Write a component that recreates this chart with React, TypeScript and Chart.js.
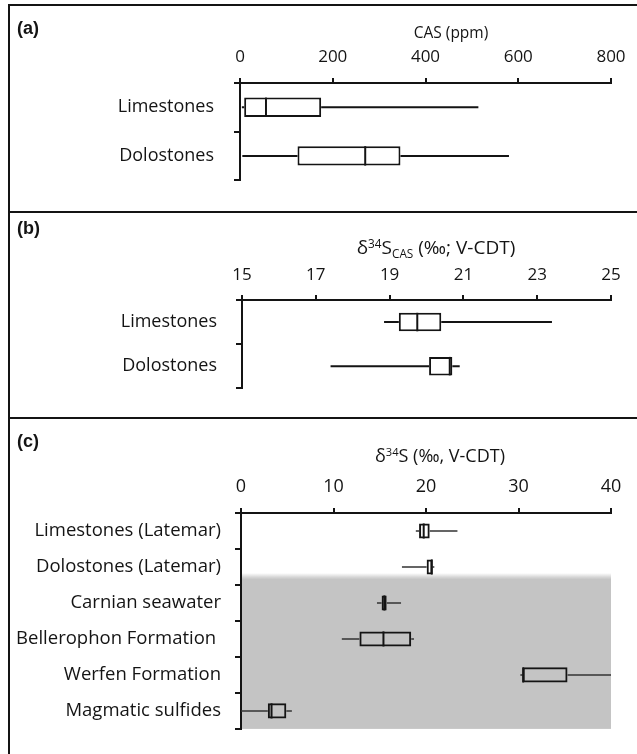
import React, { useEffect, useRef } from "react";
import { Chart, registerables } from "chart.js";
Chart.register(...registerables);

// ---------- Panel (a): CAS concentration (ppm) ----------
const casCategories = ["Limestones", "Dolostones"];
const casMin = [4, 5];
const casQ1 = [9, 124];
const casMedian = [56, 270];
const casQ3 = [175, 346];
const casMax = [514, 580];
const casAxis = { min: 0, max: 800, step: 200 };

// ---------- Panel (b): δ34S CAS (‰ V-CDT) ----------
const casSCategories = ["Limestones", "Dolostones"];
const casSMin = [18.85, 17.4];
const casSQ1 = [19.25, 20.07];
const casSMedian = [19.75, 20.63];
const casSQ3 = [20.4, 20.7];
const casSMax = [23.4, 20.9];
const casSAxis = { min: 15, max: 25, step: 2 };

// ---------- Panel (c): δ34S comparison (‰ V-CDT) ----------
const sCategories = [
  "Limestones (Latemar)",
  "Dolostones (Latemar)",
  "Carnian seawater",
  "Bellerophon Formation ",
  "Werfen Formation",
  "Magmatic sulfides",
];
const sMin = [18.9, 17.4, 14.7, 10.9, 30.2, 0];
const sQ1 = [19.25, 20.07, 15.2, 12.8, 30.45, 2.9];
const sMedian = [19.75, 20.63, 15.5, 15.4, 30.5, 3.3];
const sQ3 = [20.4, 20.7, 15.75, 18.4, 35.3, 4.9];
const sMax = [23.4, 20.9, 17.3, 18.7, 40, 5.5];
const sAxis = { min: 0, max: 40, step: 10 };
const sShadeFrom = 1.25; // category position where the grey field begins

const INK = "#141414";
const GREY = "#c4c4c4";

type PanelProps = {
  top: number;
  height: number;
  categories: string[];
  mins: number[];
  q1s: number[];
  medians: number[];
  q3s: number[];
  maxs: number[];
  axis: { min: number; max: number; step: number };
  areaLeft: number;
  areaRight: number;
  areaTop: number;
  areaBottom: number;
  labelPad: number;
  labelSize: number;
  tickSize: number;
  tickPad: number;
  whiskerWidth: number;
  whiskerColor: string;
  boxFill: string;
  barPct: number;
  shadeFrom?: number;
};

function BoxPanel(p: PanelProps) {
  const ref = useRef<HTMLCanvasElement>(null);
  useEffect(() => {
    const canvas = ref.current;
    if (!canvas) return;
    const plugin = {
      id: "boxWhiskers",
      beforeDraw(chart: any) {
        if (p.shadeFrom === undefined) return;
        const { ctx, chartArea } = chart;
        const y0 = chart.scales.y.getPixelForValue(p.shadeFrom);
        const w = chartArea.right - chartArea.left;
        ctx.save();
        const g = ctx.createLinearGradient(0, y0 - 3, 0, y0 + 3);
        g.addColorStop(0, "rgba(196,196,196,0)");
        g.addColorStop(1, GREY);
        ctx.fillStyle = g;
        ctx.fillRect(chartArea.left, y0 - 3, w, 6);
        ctx.fillStyle = GREY;
        ctx.fillRect(chartArea.left, y0 + 3, w, chartArea.bottom - y0 - 3);
        ctx.restore();
      },
      afterDatasetsDraw(chart: any) {
        const { ctx } = chart;
        const xs = chart.scales.x;
        const meta = chart.getDatasetMeta(0);
        ctx.save();
        p.categories.forEach((_, i) => {
          const bar = meta.data[i];
          const y = bar.y;
          const half = bar.height / 2;
          ctx.strokeStyle = p.whiskerColor;
          ctx.lineWidth = p.whiskerWidth;
          ctx.beginPath();
          ctx.moveTo(xs.getPixelForValue(p.mins[i]), y);
          ctx.lineTo(xs.getPixelForValue(p.q1s[i]), y);
          ctx.moveTo(xs.getPixelForValue(p.q3s[i]), y);
          ctx.lineTo(xs.getPixelForValue(p.maxs[i]), y);
          ctx.stroke();
          ctx.strokeStyle = INK;
          ctx.lineWidth = 2;
          const mx = xs.getPixelForValue(p.medians[i]);
          ctx.beginPath();
          ctx.moveTo(mx, y - half);
          ctx.lineTo(mx, y + half);
          ctx.stroke();
        });
        ctx.restore();
      },
    };
    const chart = new Chart(canvas, {
      type: "bar",
      data: {
        labels: p.categories,
        datasets: [
          {
            data: p.q1s.map((q, i) => [q, p.q3s[i]]) as any,
            backgroundColor: p.boxFill,
            borderColor: INK,
            borderWidth: 2,
            borderSkipped: false,
            barPercentage: p.barPct,
            categoryPercentage: 1,
          },
        ],
      },
      options: {
        animation: false,
        responsive: false,
        devicePixelRatio: 1,
        indexAxis: "y",
        layout: {
          padding: {
            left: 0,
            top: 0,
            right: 637 - p.areaRight,
            bottom: p.height - p.areaBottom,
          },
        },
        plugins: {
          legend: { display: false },
          tooltip: { enabled: false },
          title: { display: false },
        },
        scales: {
          x: {
            type: "linear",
            position: "top",
            min: p.axis.min,
            max: p.axis.max,
            ticks: {
              stepSize: p.axis.step,
              padding: p.tickPad,
              color: INK,
              font: { family: '"Open Sans"', size: p.tickSize },
            },
            grid: {
              drawOnChartArea: false,
              drawTicks: true,
              tickLength: 5,
              lineWidth: 2,
              color: INK,
            },
            border: { display: true, width: 2, color: INK },
            afterFit: (s: any) => {
              s.height = p.areaTop;
            },
          },
          y: {
            type: "category",
            position: "left",
            offset: true,
            grid: {
              offset: true,
              drawOnChartArea: false,
              drawTicks: true,
              tickLength: 6,
              lineWidth: 2,
              color: INK,
            },
            border: { display: true, width: 2, color: INK },
            ticks: {
              padding: p.labelPad,
              color: INK,
              font: { family: '"Open Sans"', size: p.labelSize },
            },
            afterFit: (s: any) => {
              s.width = p.areaLeft;
            },
          },
        },
      },
      plugins: [plugin],
    } as any);
    return () => chart.destroy();
  }, []);
  return (
    <canvas
      ref={ref}
      width={637}
      height={p.height}
      style={{ position: "absolute", left: 0, top: p.top, width: 637, height: p.height, display: "block" }}
    />
  );
}

const sup: React.CSSProperties = { fontSize: "0.62em", position: "relative", top: "-0.55em" };
const sub: React.CSSProperties = { fontSize: "0.62em", position: "relative", top: "0.3em" };

function Title(props: { cx: number; cy: number; size: number; children: React.ReactNode }) {
  return (
    <div
      style={{
        position: "absolute",
        left: props.cx - 150,
        top: props.cy - 14,
        width: 300,
        height: 28,
        lineHeight: "28px",
        textAlign: "center",
        fontSize: props.size,
        fontFamily: '"Open Sans"',
        color: INK,
        whiteSpace: "nowrap",
      }}
    >
      {props.children}
    </div>
  );
}

function PanelLabel(props: { y: number; text: string }) {
  return (
    <div
      style={{
        position: "absolute",
        left: 17,
        top: props.y - 12,
        height: 24,
        lineHeight: "24px",
        fontSize: 18,
        fontWeight: "bold",
        fontFamily: '"Liberation Sans", Arial, sans-serif',
        color: INK,
      }}
    >
      {props.text}
    </div>
  );
}

export default function App() {
  const line = (style: React.CSSProperties) => (
    <div style={{ position: "absolute", background: INK, ...style }} />
  );
  return (
    <div
      style={{
        position: "absolute",
        left: 0,
        top: 0,
        width: 637,
        height: 754,
        overflow: "hidden",
        background: "#fff",
      }}
    >
      <BoxPanel
        top={0}
        height={211}
        categories={casCategories}
        mins={casMin}
        q1s={casQ1}
        medians={casMedian}
        q3s={casQ3}
        maxs={casMax}
        axis={casAxis}
        areaLeft={240}
        areaRight={611}
        areaTop={83}
        areaBottom={183}
        labelPad={20}
        labelSize={18}
        tickSize={17}
        tickPad={11}
        whiskerWidth={2}
        whiskerColor={INK}
        boxFill="#ffffff"
        barPct={0.4}
      />
      <BoxPanel
        top={213}
        height={205}
        categories={casSCategories}
        mins={casSMin}
        q1s={casSQ1}
        medians={casSMedian}
        q3s={casSQ3}
        maxs={casSMax}
        axis={casSAxis}
        areaLeft={242}
        areaRight={611}
        areaTop={87}
        areaBottom={184}
        labelPad={19}
        labelSize={18}
        tickSize={17}
        tickPad={10}
        whiskerWidth={2}
        whiskerColor={INK}
        boxFill="#ffffff"
        barPct={0.42}
      />
      <BoxPanel
        top={419}
        height={335}
        categories={sCategories}
        mins={sMin}
        q1s={sQ1}
        medians={sMedian}
        q3s={sQ3}
        maxs={sMax}
        axis={sAxis}
        areaLeft={241}
        areaRight={611}
        areaTop={94}
        areaBottom={321}
        labelPad={14}
        labelSize={18.5}
        tickSize={18}
        tickPad={10}
        whiskerWidth={1.5}
        whiskerColor="#333333"
        boxFill="rgba(0,0,0,0)"
        barPct={0.42}
        shadeFrom={sShadeFrom}
      />
      {line({ left: 8, top: 4, width: 629, height: 2 })}
      {line({ left: 8, top: 4, width: 2, height: 750 })}
      {line({ left: 8, top: 211, width: 629, height: 2 })}
      {line({ left: 8, top: 417, width: 629, height: 2 })}
      <PanelLabel y={28} text="(a)" />
      <PanelLabel y={228} text="(b)" />
      <PanelLabel y={441} text="(c)" />
      <Title cx={451} cy={32} size={15.5}>CAS (ppm)</Title>
      <Title cx={436} cy={247} size={19}>
        δ<span style={sup}>34</span>S<span style={sub}>CAS</span> (‰; V-CDT)
      </Title>
      <Title cx={440} cy={455} size={18}>
        δ<span style={sup}>34</span>S (‰, V-CDT)
      </Title>
    </div>
  );
}
